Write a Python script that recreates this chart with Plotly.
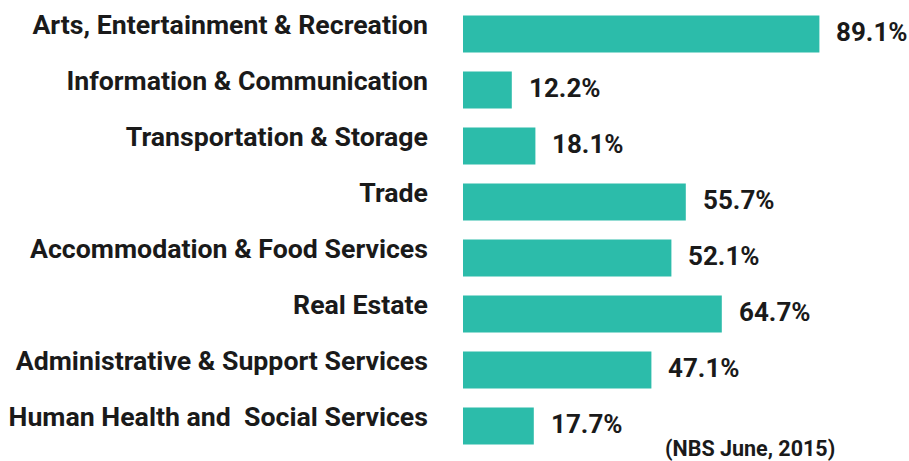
import plotly.graph_objects as go

categories = [
    "Arts, Entertainment & Recreation",
    "Information & Communication",
    "Transportation & Storage",
    "Trade",
    "Accommodation & Food Services",
    "Real Estate",
    "Administrative & Support Services",
    "Human Health and  Social Services",
]
values = [89.1, 12.2, 18.1, 55.7, 52.1, 64.7, 47.1, 17.7]
value_labels = [f"{v}%" for v in values]
source_note = "(NBS June, 2015)"

teal = "#2CBCAA"
ink = "#1a1a1a"
font_family = "Roboto, Arial, sans-serif"

fig = go.Figure()
fig.add_trace(go.Bar(
    x=values,
    y=categories,
    orientation="h",
    marker_color=teal,
    marker_line_width=0,
    hoverinfo="skip",
))

# value labels to the right of each bar
for cat, v, lab in zip(categories, values, value_labels):
    fig.add_annotation(
        x=v, y=cat, text=f"<b>{lab}</b>",
        xanchor="left", yanchor="middle",
        xshift=15, yshift=2,
        showarrow=False,
        font=dict(family=font_family, size=26, color=ink),
    )

# source note, bottom right
fig.add_annotation(
    text=f"<b>{source_note}</b>",
    xref="paper", yref="paper",
    x=0.5, y=0,
    xanchor="left", yanchor="middle",
    yshift=6,
    showarrow=False,
    font=dict(family=font_family, size=21.5, color=ink),
)

fig.update_yaxes(
    autorange="reversed",
    tickfont=dict(family=font_family, size=26.7, color=ink),
    tickprefix="<b>", ticksuffix="</b>",
    ticklabelshift=9,
    ticklabelstandoff=34,
    showgrid=False, zeroline=False, showline=False, ticks="",
)
fig.update_xaxes(
    range=[0, 100],
    visible=False,
)
fig.update_layout(
    width=909, height=461,
    bargap=0.34,
    margin=dict(l=463, r=46, t=6, b=7),
    plot_bgcolor="white",
    paper_bgcolor="white",
    showlegend=False,
    font=dict(family=font_family),
)

# drop the page's default body margin so the figure sits at the window corner
fig.write_html(
    "out.html",
    config={"displayModeBar": False},
    post_script="document.body.style.margin='0';",
)
